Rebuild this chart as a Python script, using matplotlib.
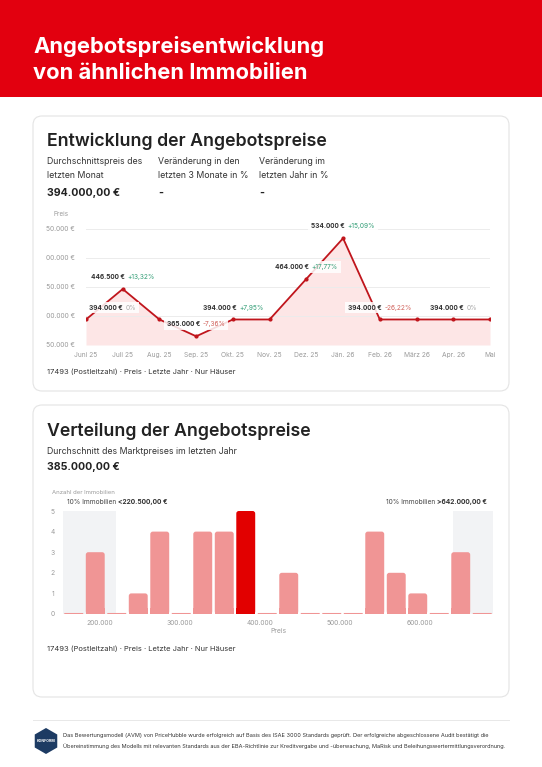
import numpy as np
import matplotlib
matplotlib.use("Agg")
import matplotlib.pyplot as plt
from matplotlib.patches import FancyBboxPatch, Rectangle, RegularPolygon
from matplotlib.offsetbox import TextArea, HPacker, AnnotationBbox
from matplotlib.transforms import Bbox

plt.rcParams['font.family'] = ['Inter', 'DejaVu Sans']

### Data ###

months = ['Juni 25', 'Juli 25', 'Aug. 25', 'Sep. 25', 'Okt. 25', 'Nov. 25',
          'Dez. 25', 'Jän. 26', 'Feb. 26', 'März 26', 'Apr. 26', 'Mai']
prices = [394000, 446500, 394000, 365000, 394000, 394000,
          464000, 534000, 394000, 394000, 394000, 394000]
label_idx = [0, 1, 3, 4, 6, 7, 8, 10]
price_ticks = [350000, 400000, 450000, 500000, 550000]
price_ticklabels = ['350.000 €', '400.000 €', '450.000 €', '500.000 €', '550.000 €']

counts = [0, 3, 0, 1, 4, 0, 4, 4, 5, 0, 2, 0, 0, 0, 4, 2, 1, 0, 3, 0]
bin_lo = 154000
bin_w = 26900
highlight_bin = 8
low10 = 220500
high10 = 642000
dist_ticks = [200000, 300000, 400000, 500000, 600000]
dist_ticklabels = ['200.000', '300.000', '400.000', '500.000', '600.000']

### Helpers ###

W, H = 542, 767
RED = '#e2000f'
DARK = '#222222'
GRAY = '#9a9a9a'


def px_axes(left, top, right, bottom):
    return fig.add_axes([left / W, 1 - bottom / H, (right - left) / W, (bottom - top) / H])


def fmt_eur(v):
    return '{:,.0f}'.format(v).replace(',', '.') + ' €'


def fmt_pct(p):
    if abs(p) < 0.005:
        return '0%'
    return '{:+.2f}%'.format(p).replace('.', ',')


fig = plt.figure(figsize=(W / 100, H / 100), dpi=100)
fig.patch.set_facecolor('white')

bg = fig.add_axes([0, 0, 1, 1])
bg.set_xlim(0, W)
bg.set_ylim(H, 0)
bg.axis('off')

# header
bg.add_patch(Rectangle((0, 0), W, 97, color=RED, lw=0))
bg.text(33, 53, 'Angebotspreisentwicklung', color='white', fontsize=15.8,
        fontweight='bold', va='baseline')
bg.text(33, 79, 'von ähnlichen Immobilien', color='white', fontsize=15.8,
        fontweight='bold', va='baseline')

# cards
for top, bottom in [(116, 391), (405, 697)]:
    bg.add_patch(FancyBboxPatch((33, top), 476, bottom - top,
                                boxstyle='round,pad=0,rounding_size=9',
                                fc='white', ec='#e4e4e4', lw=0.8))

### Card 1 ###
bg.text(47, 146, 'Entwicklung der Angebotspreise', color=DARK, fontsize=12.75,
        fontweight='semibold', va='baseline')
stat_cols = [(47, 'Durchschnittspreis des', 'letzten Monat', '394.000,00 €'),
             (158, 'Veränderung in den', 'letzten 3 Monate in %', '-'),
             (259, 'Veränderung im', 'letzten Jahr in %', '-')]
for x, lab1, lab2, val in stat_cols:
    bg.text(x, 161, lab1, color='#333333', fontsize=6.3, va='center')
    bg.text(x, 176, lab2, color='#333333', fontsize=6.3, va='center')
    bg.text(x, 196, val, color=DARK, fontsize=7.6, fontweight='bold', va='baseline')

bg.text(53, 214, 'Preis', color=GRAY, fontsize=4.6, va='center')

ax1 = px_axes(86, 229, 490, 345)
x = np.arange(len(months))
ax1.fill_between(x, prices, 350000, color='#fde6e6', lw=0, zorder=1)
ax1.plot(x, prices, color='#c0151c', lw=1.3, marker='o', ms=2, zorder=3)
ax1.set_xlim(0, len(months) - 1)
ax1.set_ylim(350000, 550000)
ax1.set_yticks(price_ticks)
ax1.tick_params(axis='y', left=False, labelleft=False)
ax1.grid(axis='y', color='#ececec', lw=0.7, zorder=0)
ax1.set_xticks(x)
ax1.set_xticklabels(months, fontsize=4.8, color=GRAY)
ax1.tick_params(axis='x', length=0, pad=5)
for s in ax1.spines.values():
    s.set_visible(False)
ax1.patch.set_alpha(0)

# y labels are cut off by the card padding in the original
clip = Bbox([[46, 0], [W, H]])
for v, lab in zip(price_ticks, price_ticklabels):
    t = ax1.text(-0.027, v, lab, transform=ax1.get_yaxis_transform(), ha='right',
                 va='center', fontsize=4.8, color=GRAY, clip_on=True)
    t.set_clip_box(clip)

for i in label_idx:
    pct = 0.0 if i == 0 else (prices[i] / prices[i - 1] - 1) * 100
    if abs(pct) < 0.005:
        pc = '#a8a8a8'
    elif pct > 0:
        pc = '#2f9c74'
    else:
        pc = '#d0605a'
    box = HPacker(children=[TextArea(fmt_eur(prices[i]), textprops=dict(fontsize=4.7, fontweight='bold', color='#333333')),
                            TextArea(fmt_pct(pct), textprops=dict(fontsize=4.7, color=pc))],
                  sep=2, pad=0, align='baseline')
    dx = 19 if i == 0 else 0
    ab = AnnotationBbox(box, (i, prices[i]), xybox=(dx, 8.5), boxcoords='offset points',
                        frameon=True, pad=0.2, annotation_clip=False,
                        bboxprops=dict(fc='white', ec='none', alpha=0.85))
    ab.set_zorder(4)
    ax1.add_artist(ab)

bg.text(47, 372, '17493 (Postleitzahl) · Preis · Letzte Jahr · Nur Häuser',
        color='#333333', fontsize=5.45, va='center')

### Card 2 ###
bg.text(47, 436, 'Verteilung der Angebotspreise', color=DARK, fontsize=12.75,
        fontweight='semibold', va='baseline')
bg.text(47, 451, 'Durchschnitt des Marktpreises im letzten Jahr', color='#333333',
        fontsize=6.3, va='center')
bg.text(47, 470, '385.000,00 €', color=DARK, fontsize=7.6, fontweight='bold', va='baseline')
bg.text(52, 492, 'Anzahl der Immobilien', color=GRAY, fontsize=4.3, va='center')

ax2 = px_axes(63, 511, 493, 614)
centers = bin_lo + bin_w * (np.arange(len(counts)) + 0.5)
ax2.axvspan(bin_lo, low10, color='#f2f3f5', lw=0, zorder=0)
ax2.axvspan(high10, bin_lo + bin_w * len(counts), color='#f2f3f5', lw=0, zorder=0)
bar_w = bin_w * 0.88
for i, (c, n) in enumerate(zip(centers, counts)):
    col = '#e20000' if i == highlight_bin else '#f09595'
    h = n if n > 0 else 0.05
    r = 0.0 if n == 0 else 3200
    # rounded top corners (rounding in data units, x scale ~ 1250 €/px, y ~ 0.0485/px)
    ax2.add_patch(FancyBboxPatch((c - bar_w / 2, 0), bar_w, h,
                                 boxstyle='round,pad=0,rounding_size=%f' % max(r, 1e-9),
                                 mutation_aspect=0.0485 / 1250, fc=col, lw=0, zorder=2))
    if n > 0:
        ax2.add_patch(Rectangle((c - bar_w / 2, 0), bar_w, min(h, 0.3), fc=col, lw=0, zorder=2))
ax2.set_xlim(bin_lo, bin_lo + bin_w * len(counts))
ax2.set_ylim(0, 5)
ax2.set_yticks(range(6))
ax2.set_xticks(dist_ticks)
ax2.set_xticklabels(dist_ticklabels)
ax2.tick_params(length=0, labelsize=4.8, labelcolor=GRAY)
ax2.tick_params(axis='y', pad=6)
ax2.tick_params(axis='x', pad=4)
ax2.set_xlabel('Preis', fontsize=4.8, color=GRAY, labelpad=2)
for s in ax2.spines.values():
    s.set_visible(False)
ax2.patch.set_alpha(0)

ab = HPacker(children=[TextArea('10% Immobilien ', textprops=dict(fontsize=4.75, color='#444444')),
                       TextArea('<220.500,00 €', textprops=dict(fontsize=4.75, fontweight='bold', color='#333333'))],
             sep=0, pad=0, align='baseline')
bg.add_artist(AnnotationBbox(ab, (67, 502), box_alignment=(0, 0.5), frameon=False))
ab = HPacker(children=[TextArea('10% Immobilien ', textprops=dict(fontsize=4.75, color='#444444')),
                       TextArea('>642.000,00 €', textprops=dict(fontsize=4.75, fontweight='bold', color='#333333'))],
             sep=0, pad=0, align='baseline')
bg.add_artist(AnnotationBbox(ab, (487, 502), box_alignment=(1, 0.5), frameon=False))

bg.text(47, 649, '17493 (Postleitzahl) · Preis · Letzte Jahr · Nur Häuser',
        color='#333333', fontsize=5.45, va='center')

### Footer ###
bg.plot([33, 509], [720, 720], color='#e8e8e8', lw=0.7)
bg.add_patch(RegularPolygon((46, 741), 6, radius=13, color='#1d3b63', lw=0))
bg.text(46, 741, 'KONFORM', color='white', fontsize=2.6, ha='center', va='center',
        fontweight='bold')
bg.text(63, 736, 'Das Bewertungsmodell (AVM) von PriceHubble wurde erfolgreich auf Basis des ISAE 3000 Standards geprüft. '
        'Der erfolgreiche abgeschlossene Audit bestätigt die',
        color='#333333', fontsize=4.03, va='center')
bg.text(63, 746, 'Übereinstimmung des Modells mit relevanten Standards aus der EBA-Richtlinie zur Kreditvergabe und '
        '-überwachung, MaRisk und Beleihungswertermittlungsverordnung.',
        color='#333333', fontsize=4.03, va='center')

fig.savefig('out.png', dpi=100)
